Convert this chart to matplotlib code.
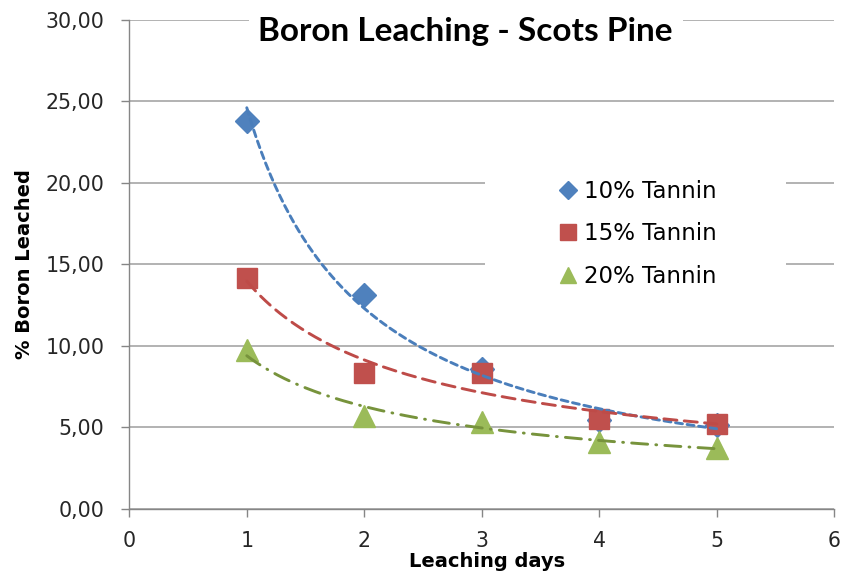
import numpy as np
import matplotlib
matplotlib.use("Agg")
import matplotlib.pyplot as plt
from matplotlib.lines import Line2D
from matplotlib.patches import Rectangle
from matplotlib.ticker import FuncFormatter, MultipleLocator

# ===== data =====
days = [1, 2, 3, 4, 5]
tannin_10 = [23.8, 13.1, 8.6, 5.45, 5.15]
tannin_15 = [14.15, 8.35, 8.35, 5.55, 5.2]
tannin_20 = [9.75, 5.7, 5.35, 4.1, 3.75]
labels = ["10% Tannin", "15% Tannin", "20% Tannin"]

marker_cols = ["#4F81BD", "#C0504D", "#9BBB59"]
trend_cols = ["#4A7EBB", "#BE4B48", "#77933C"]
markers = ["D", "s", "^"]
msizes = [12, 15, 16]
dash_styles = [(0, (2.4, 1.6)), (0, (4.5, 2.5)), (0, (5.5, 2.8, 0.3, 2.8))]

# ===== figure =====
fig = plt.figure(figsize=(8.42, 5.71), dpi=100)
ax = fig.add_axes([0.1536, 0.1086, 0.837, 0.8564])

series = [tannin_10, tannin_15, tannin_20]
x = np.array(days, dtype=float)

# markers first, trendlines (power fit, as in Excel) drawn on top
for i, vals in enumerate(series):
    ax.plot(x, vals, linestyle="none", marker=markers[i], ms=msizes[i],
            color=marker_cols[i], mec=marker_cols[i], zorder=3 + i * 0.1)

xx = np.linspace(x.min(), x.max(), 200)
for i, vals in enumerate(series):
    b, lna = np.polyfit(np.log(x), np.log(vals), 1)
    ax.plot(xx, np.exp(lna) * xx ** b, color=trend_cols[i], lw=2.1,
            linestyle=dash_styles[i], dash_capstyle="round", zorder=5)

# axes
ax.set_xlim(0, 6)
ax.set_ylim(0, 30)
ax.xaxis.set_major_locator(MultipleLocator(1))
ax.yaxis.set_major_locator(MultipleLocator(5))
ax.yaxis.set_major_formatter(FuncFormatter(lambda v, p: f"{v:.2f}".replace(".", ",")))
ax.yaxis.grid(True, color="#A6A6A6", lw=1.2, zorder=0)
ax.set_axisbelow(True)
for s in ["top", "right"]:
    ax.spines[s].set_visible(False)
for s in ["left", "bottom"]:
    ax.spines[s].set_color("#868686")
    ax.spines[s].set_linewidth(1.0)
ax.tick_params(axis="both", direction="out", length=6, width=1.0, color="#868686",
               labelsize=14.8, labelcolor="#262626", pad=12)
ax.tick_params(axis="x", pad=10)

ax.set_ylabel("% Boron Leached", fontsize=14, fontweight="bold")
ax.yaxis.set_label_coords(-0.135, 0.5)
ax.set_xlabel("Leaching days", fontsize=14, fontweight="bold")
ax.xaxis.set_label_coords(0.507, -0.087)

# white block behind legend (hides gridlines as in Excel)
ax.add_patch(Rectangle((0.505, 0.44), 0.427, 0.27, transform=ax.transAxes,
                       facecolor="white", edgecolor="none", zorder=1))
handles = [Line2D([], [], linestyle="none", marker=markers[i], ms=[9, 12, 12][i],
                  color=marker_cols[i]) for i in range(3)]
ax.legend(handles, labels, loc="center", bbox_to_anchor=(0.721, 0.563),
          frameon=False, fontsize=16.5, handlelength=0.8, handletextpad=0.3,
          labelspacing=0.85, borderpad=0)

fig.text(0.553, 0.944, "Boron Leaching - Scots Pine", ha="center", va="center",
         fontsize=24, fontweight="bold", family="Lato",
         bbox=dict(facecolor="white", edgecolor="none", pad=7))

fig.savefig("out.png", dpi=100)
